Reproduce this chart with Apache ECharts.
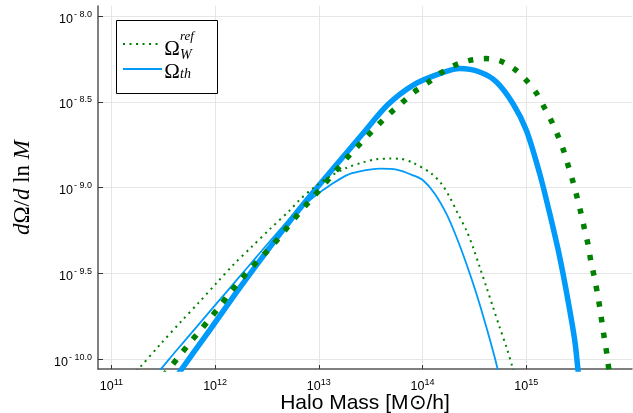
<!DOCTYPE html>
<html><head><meta charset="utf-8">
<script src="https://cdn.jsdelivr.net/npm/echarts@6/dist/echarts.min.js"></script>
<style>html,body{margin:0;padding:0;background:#fff}#c{width:633px;height:413px}</style>
</head><body><div id="c"></div>
<script>
// tick positions (log10 units) and their labels
const xTickValues = [11, 12, 13, 14, 15];
const xTickSup = ['11', '12', '13', '14', '15'];
const yTickValues = [-10, -9.5, -9, -8.5, -8];
const yTickSup = ['- 10.0', '- 9.5', '- 9.0', '- 8.5', '- 8.0'];

// All values: x = log10(M [Msun/h]), y = log10(dΩ/dlnM)
// Ω_W^ref, thin dotted
const wRefThinX = [11.20, 11.263, 11.466, 11.675, 11.842, 12.013, 12.179, 12.350, 12.533, 12.719, 12.816, 12.95, 13.105, 13.266, 13.426, 13.55, 13.684, 13.78, 13.909, 14.086, 14.182, 14.262, 14.342, 14.423, 14.487, 14.552, 14.616, 14.680, 14.744, 14.809, 14.867, 14.89];
const wRefThinY = [-10.10, -10.057, -9.918, -9.779, -9.671, -9.557, -9.448, -9.347, -9.239, -9.133, -9.07, -9.00, -8.935, -8.885, -8.852, -8.835, -8.830, -8.831, -8.855, -8.918, -8.977, -9.055, -9.152, -9.249, -9.347, -9.464, -9.580, -9.697, -9.815, -9.930, -10.047, -10.10];
// Ω_th, thin solid
const thThinX = [11.40, 11.466, 11.627, 11.820, 12.013, 12.205, 12.398, 12.591, 12.784, 12.96, 13.105, 13.266, 13.394, 13.587, 13.75, 13.909, 14.005, 14.118, 14.230, 14.327, 14.423, 14.520, 14.616, 14.696, 14.728, 14.74];
const thThinY = [-10.11, -10.067, -9.950, -9.814, -9.677, -9.541, -9.405, -9.269, -9.142, -9.05, -8.987, -8.928, -8.905, -8.889, -8.895, -8.928, -8.957, -9.035, -9.152, -9.288, -9.444, -9.619, -9.814, -9.989, -10.067, -10.10];
// Ω_W^ref, thick dotted
const wRefThickX = [11.50, 11.562, 11.659, 11.755, 11.851, 11.955, 12.051, 12.141, 12.237, 12.340, 12.446, 12.553, 12.655, 12.751, 12.854, 12.954, 13.057, 13.160, 13.259, 13.363, 13.469, 13.578, 13.690, 13.803, 13.919, 14.053, 14.182, 14.311, 14.455, 14.61, 14.751, 14.889, 15.002, 15.098, 15.172, 15.243, 15.307, 15.362, 15.407, 15.451, 15.490, 15.528, 15.561, 15.596, 15.622, 15.654, 15.683, 15.709, 15.731, 15.754, 15.779, 15.798, 15.81];
const wRefThickY = [-10.10, -10.053, -9.979, -9.907, -9.837, -9.761, -9.687, -9.615, -9.545, -9.473, -9.405, -9.337, -9.263, -9.191, -9.117, -9.049, -8.977, -8.905, -8.835, -8.767, -8.699, -8.630, -8.564, -8.504, -8.442, -8.387, -8.329, -8.286, -8.257, -8.247, -8.261, -8.309, -8.374, -8.448, -8.529, -8.611, -8.699, -8.786, -8.876, -8.965, -9.055, -9.148, -9.239, -9.331, -9.424, -9.514, -9.605, -9.697, -9.790, -9.881, -9.975, -10.067, -10.12];
// Ω_th, thick solid
const thThickX = [11.62, 11.668, 11.95, 12.237, 12.5, 12.751, 12.96, 13.192, 13.417, 13.667, 13.915, 14.166, 14.359, 14.551, 14.713, 14.873, 15.002, 15.130, 15.227, 15.323, 15.403, 15.468, 15.500, 15.51];
const thThickY = [-10.11, -10.067, -9.83, -9.585, -9.37, -9.172, -9.016, -8.850, -8.69, -8.515, -8.40, -8.335, -8.305, -8.325, -8.383, -8.510, -8.666, -8.918, -9.152, -9.405, -9.658, -9.891, -10.067, -10.12];

const zip = (xs, ys) => xs.map((x, i) => [x, ys[i]]);
const GREEN = '#008000', BLUE = '#009AFA';

const chart = echarts.init(document.getElementById('c'), null, {renderer: 'canvas'});
const supIdx = (vals, v) => vals.findIndex(t => Math.abs(t - v) < 1e-6);

chart.setOption({
  animation: false,
  backgroundColor: '#fff',
  grid: {left: 98, right: 1, top: 6, bottom: 44, containLabel: false, outerBoundsMode: 'none'},
  xAxis: {
    type: 'value', min: 10.871, max: 16.02,
    axisLine: {show: true, onZero: false, lineStyle: {color: '#555', width: 1.5}},
    axisTick: {show: true, inside: true, length: 4, customValues: xTickValues, lineStyle: {color: '#333'}},
    axisLabel: {
      customValues: xTickValues, margin: 9,
      formatter: v => { const i = supIdx(xTickValues, v); return i < 0 ? '' : '{b|10}{s|' + xTickSup[i] + '}'; },
      rich: {
        b: {fontSize: 12.5, fontFamily: 'Liberation Sans', color: '#000', lineHeight: 14},
        s: {fontSize: 9, fontFamily: 'Liberation Sans', color: '#000', padding: [0, 0, 9, 0]}
      }
    },
    splitLine: {show: true, lineStyle: {color: '#e6e6e6', width: 1}},
    name: 'Halo Mass [M⊙/h]', nameLocation: 'middle', nameGap: 24, nameMoveOverlap: false,
    nameTextStyle: {fontSize: 21, fontFamily: 'Liberation Sans', color: '#000'}
  },
  yAxis: {
    type: 'value', min: -10.058, max: -7.94,
    axisLine: {show: true, onZero: false, lineStyle: {color: '#555', width: 1.5}},
    axisTick: {show: true, inside: true, length: 5, customValues: yTickValues, lineStyle: {color: '#333'}},
    axisLabel: {
      customValues: yTickValues, margin: 6,
      formatter: v => { const i = supIdx(yTickValues, v); return i < 0 ? '' : '{b|10}{s|' + yTickSup[i] + '}'; },
      rich: {
        b: {fontSize: 12.5, fontFamily: 'Liberation Sans', color: '#000', lineHeight: 14, padding: [6, 0, 0, 0]},
        s: {fontSize: 9, fontFamily: 'Liberation Sans', color: '#000', padding: [0, 0, 4, 1]}
      }
    },
    splitLine: {show: true, lineStyle: {color: '#e6e6e6', width: 1}},
    name: '{i|d}{r|Ω}{r|/}{i|d}{r| ln }{i|M}', nameLocation: 'middle', nameGap: 64, nameRotate: 90,
    nameTextStyle: {
      fontSize: 23, fontFamily: 'Liberation Serif', color: '#000',
      rich: {
        i: {fontSize: 23, fontFamily: 'Liberation Serif', fontStyle: 'italic', color: '#000'},
        r: {fontSize: 23, fontFamily: 'Liberation Serif', color: '#000'}
      }
    }
  },
  series: [
    {type: 'line', name: 'th thin', data: zip(thThinX, thThinY), showSymbol: false, smooth: 0.3,
     lineStyle: {color: BLUE, width: 1.8}},
    {type: 'line', name: 'th thick', data: zip(thThickX, thThickY), showSymbol: false, smooth: 0.3,
     lineStyle: {color: BLUE, width: 5.5}},
    {type: 'line', name: 'w thin', data: zip(wRefThinX, wRefThinY), showSymbol: false, smooth: 0.3,
     lineStyle: {color: GREEN, width: 2, type: [2, 4.5], cap: 'butt'}},
    {type: 'line', name: 'w thick', data: zip(wRefThickX, wRefThickY), showSymbol: false, smooth: 0.3,
     lineStyle: {color: GREEN, width: 5.5, type: [5.5, 10.3], cap: 'butt'}}
  ],
  graphic: [
    {type: 'rect', shape: {x: 116.5, y: 20.5, width: 101, height: 73}, style: {fill: '#fff', stroke: '#000', lineWidth: 1}, z: 100},
    {type: 'line', shape: {x1: 123, y1: 44, x2: 160, y2: 44}, style: {stroke: GREEN, lineWidth: 2, lineDash: [2, 4.5]}, z: 101},
    {type: 'line', shape: {x1: 123, y1: 69, x2: 162, y2: 69}, style: {stroke: BLUE, lineWidth: 2}, z: 101},
    {type: 'text', z: 101, style: {text: 'Ω', x: 172, y: 49, font: '21px "Liberation Serif"', fill: '#000', align: 'center', verticalAlign: 'middle', textAlign: 'center', textVerticalAlign: 'middle'}},
    {type: 'text', z: 101, style: {text: 'ref', x: 180, y: 37, font: 'italic 13px "Liberation Serif"', fill: '#000', align: 'left', verticalAlign: 'middle', textAlign: 'left', textVerticalAlign: 'middle'}},
    {type: 'text', z: 101, style: {text: 'W', x: 180, y: 55.5, font: 'italic 14px "Liberation Serif"', fill: '#000', align: 'left', verticalAlign: 'middle', textAlign: 'left', textVerticalAlign: 'middle'}},
    {type: 'text', z: 101, style: {text: 'Ω', x: 172, y: 72, font: '21px "Liberation Serif"', fill: '#000', align: 'center', verticalAlign: 'middle', textAlign: 'center', textVerticalAlign: 'middle'}},
    {type: 'text', z: 101, style: {text: 'th', x: 180, y: 74.5, font: 'italic 14px "Liberation Serif"', fill: '#000', align: 'left', verticalAlign: 'middle', textAlign: 'left', textVerticalAlign: 'middle'}}
  ]
});
</script></body></html>
